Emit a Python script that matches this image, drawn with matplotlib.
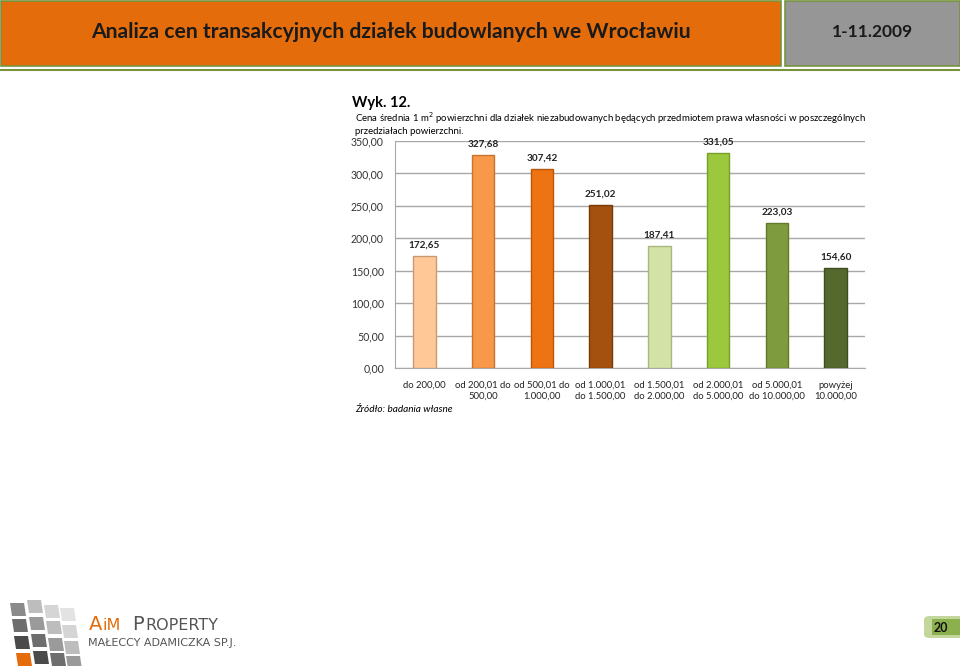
import matplotlib
matplotlib.use("Agg")
import matplotlib.pyplot as plt
from matplotlib.patches import Rectangle, FancyBboxPatch, Polygon

plt.rcParams['font.family'] = ['Lato', 'DejaVu Sans']

categories = ["do 200,00", "od 200,01 do\n500,00", "od 500,01 do\n1.000,00",
              "od 1.000,01\ndo 1.500,00", "od 1.500,01\ndo 2.000,00",
              "od 2.000,01\ndo 5.000,00", "od 5.000,01\ndo 10.000,00",
              "powyżej\n10.000,00"]
values = [172.65, 327.68, 307.42, 251.02, 187.41, 331.05, 223.03, 154.60]
value_labels = ["172,65", "327,68", "307,42", "251,02", "187,41", "331,05", "223,03", "154,60"]
yticks = [0, 50, 100, 150, 200, 250, 300, 350]
ytick_labels = ["0,00", "50,00", "100,00", "150,00", "200,00", "250,00", "300,00", "350,00"]
bar_colors = ["#FFC896", "#F8984A", "#EE7312", "#A4510F", "#D3E2A6", "#9CC83E", "#7E9C3E", "#55692E"]
edge_colors = ["#C89A70", "#C8742E", "#B8560A", "#7A3A08", "#A8B880", "#78A028", "#5E7A2C", "#3E4E20"]

W, H = 960, 666
fig = plt.figure(figsize=(W / 100, H / 100), dpi=100)

def px(x, y):
    return x / W, 1 - y / H

# Header
fig.patches.append(Rectangle(px(1, 66), 780 / W, 65 / H, transform=fig.transFigure,
                             facecolor="#E46C0A", edgecolor="#77933C", lw=1.2))
fig.patches.append(Rectangle(px(785, 66), 175 / W, 65 / H, transform=fig.transFigure,
                             facecolor="#969696", edgecolor="#77933C", lw=1.2))
fig.lines.append(plt.Line2D([0, 1], [1 - 70 / H, 1 - 70 / H], transform=fig.transFigure,
                            color="#77933C", lw=1.5))
fig.text(*px(391, 32), "Analiza cen transakcyjnych działek budowlanych we Wrocławiu",
         ha="center", va="center", fontsize=15.2, fontweight="bold", color="#1a1a1a")
fig.text(*px(872, 32), "1-11.2009", ha="center", va="center", fontsize=12.5,
         fontweight="bold", color="#1a1a1a")

# Captions
fig.text(*px(352, 103), "Wyk. 12.", ha="left", va="center", fontsize=10.5, fontweight="bold")
fig.text(*px(355, 118), "Cena średnia 1 m$^{2}$ powierzchni dla działek niezabudowanych będących przedmiotem prawa własności w poszczególnych",
         ha="left", va="center", fontsize=6.9)
fig.text(*px(355, 131), "przedziałach powierzchni.", ha="left", va="center", fontsize=6.9)
fig.text(*px(355, 410), "Źródło: badania własne", ha="left", va="center", fontsize=7.2, style="italic")

# Chart
l, b = px(395, 368)
ax = fig.add_axes([l, b, (865 - 395) / W, (368 - 141) / H])
x = list(range(len(values)))
ax.bar(x, values, width=0.38, color=bar_colors, edgecolor=edge_colors, linewidth=1.0, zorder=3)
for xi, v, lab in zip(x, values, value_labels):
    ax.text(xi, v + 10, lab, ha="center", va="bottom", fontsize=7.2, fontweight="bold", color="#222222")
ax.set_ylim(0, 350)
ax.set_xlim(-0.5, len(values) - 0.5)
ax.set_yticks(yticks)
ax.set_yticklabels(ytick_labels, fontsize=7.6, color="#333333")
ax.set_xticks(x)
ax.set_xticklabels(categories, fontsize=6.8, color="#222222", linespacing=1.3)
ax.tick_params(axis="both", length=0, pad=8)
ax.tick_params(axis="x", pad=9)
ax.yaxis.grid(True, color="#A8A8A8", lw=1.0, zorder=0)
for s in ["top", "right"]:
    ax.spines[s].set_visible(False)
ax.spines["left"].set_color("#A8A8A8")
ax.spines["bottom"].set_color("#A8A8A8")

# Logo tiles (skewed parallelograms)
tiles = [
    (10, 603, "#8A8A8A"), (27, 600, "#BDBDBD"), (44, 605, "#D5D5D5"), (60, 608, "#E3E3E3"),
    (12, 619, "#6E6E6E"), (29, 617, "#9A9A9A"), (46, 621, "#BDBDBD"), (62, 625, "#D5D5D5"),
    (14, 636, "#4A4A4A"), (31, 634, "#6E6E6E"), (48, 638, "#9A9A9A"), (64, 641, "#BDBDBD"),
    (16, 653, "#E46C0A"), (33, 651, "#4A4A4A"), (50, 653, "#6E6E6E"), (66, 656, "#9A9A9A"),
]
for tx, ty, c in tiles:
    pts = [px(tx, ty), px(tx + 14, ty), px(tx + 16, ty + 13), px(tx + 2, ty + 13)]
    fig.patches.append(Polygon(pts, closed=True, transform=fig.transFigure,
                               facecolor=c, edgecolor="none"))
logo_font = ['DejaVu Sans']
fig.text(*px(89, 624), "A", ha="left", va="center", fontsize=14, color="#E46C0A", family=logo_font)
fig.text(*px(103, 625), "iM", ha="left", va="center", fontsize=11.5, color="#E46C0A", family=logo_font)
fig.text(*px(132, 624), "P", ha="left", va="center", fontsize=14, color="#555555", family=logo_font)
fig.text(*px(145, 625), "ROPERTY", ha="left", va="center", fontsize=11.5, color="#555555", family=logo_font)
fig.text(*px(88, 643), "MAŁECCY ADAMICZKA SP.J.", ha="left", va="center", fontsize=8.0,
         color="#555555", family=logo_font)

# Page number
fig.patches.append(FancyBboxPatch(px(924, 638), 40 / W, 22 / H, transform=fig.transFigure,
                                  boxstyle="round,pad=0,rounding_size=0.006",
                                  facecolor="#C3D69B", edgecolor="none"))
fig.patches.append(Rectangle(px(932, 635), 30 / W, 16 / H, transform=fig.transFigure,
                             facecolor="#8DB04E", edgecolor="none"))
fig.text(*px(934, 628), "20", ha="left", va="center", fontsize=9, fontweight="bold", color="#111111")

fig.savefig("out.png", dpi=100)
